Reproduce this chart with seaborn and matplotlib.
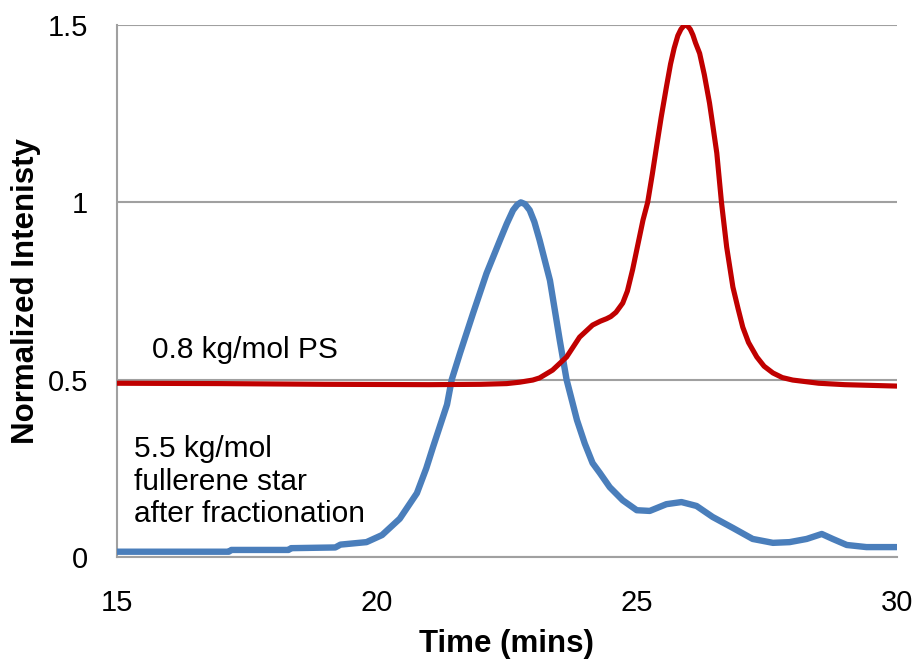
import matplotlib
matplotlib.use("Agg")
import matplotlib.pyplot as plt
import seaborn as sns
import pandas as pd

# ---- data ----
ps_time = [15.0, 17.0, 19.0, 21.0, 22.0, 22.5, 22.75, 23.0, 23.13, 23.38, 23.65,
           23.9, 24.15, 24.3, 24.42, 24.5, 24.6, 24.73, 24.82, 24.92, 25.02, 25.12,
           25.21, 25.3, 25.38, 25.47, 25.57, 25.65, 25.72, 25.79, 25.85, 25.9,
           25.94, 25.98, 26.03, 26.08, 26.13, 26.21, 26.3, 26.4, 26.47, 26.54,
           26.63, 26.73, 26.85, 26.95, 27.04, 27.15, 27.31, 27.45, 27.62, 27.8,
           28.0, 28.5, 29.0, 30.0]
ps_int = [0.490, 0.489, 0.487, 0.486, 0.487, 0.489, 0.493, 0.499, 0.505, 0.527, 0.564,
          0.620, 0.654, 0.665, 0.672, 0.678, 0.690, 0.716, 0.750, 0.810, 0.880, 0.950,
          1.000, 1.080, 1.156, 1.240, 1.325, 1.390, 1.435, 1.470, 1.488, 1.497,
          1.500, 1.497, 1.488, 1.472, 1.450, 1.420, 1.360, 1.280, 1.210, 1.139,
          1.000, 0.874, 0.761, 0.700, 0.648, 0.605, 0.564, 0.538, 0.519, 0.506,
          0.499, 0.490, 0.486, 0.482]

star_time = [15.0, 17.15, 17.2, 18.3, 18.35, 19.2, 19.3, 19.8, 20.1, 20.44, 20.77,
             20.95, 21.08, 21.35, 21.44, 21.6, 21.85, 22.11, 22.37, 22.5, 22.62, 22.7,
             22.77, 22.85, 22.94, 23.03, 23.13, 23.33, 23.52, 23.65, 23.85, 24.0,
             24.15, 24.29, 24.48, 24.73, 25.0, 25.25, 25.57, 25.86, 26.15, 26.46,
             26.85, 27.23, 27.62, 27.94, 28.27, 28.56, 28.77, 29.04, 29.42, 30.0]
star_int = [0.015, 0.015, 0.020, 0.020, 0.025, 0.027, 0.035, 0.042, 0.062, 0.108, 0.180,
            0.250, 0.310, 0.430, 0.500, 0.575, 0.687, 0.800, 0.894, 0.940, 0.978, 0.993,
            1.000, 0.995, 0.978, 0.945, 0.894, 0.780, 0.610, 0.500, 0.386, 0.320,
            0.265, 0.237, 0.197, 0.160, 0.132, 0.130, 0.149, 0.155, 0.144, 0.113,
            0.082, 0.051, 0.040, 0.042, 0.051, 0.065, 0.051, 0.034, 0.028, 0.028]

x_ticks = [15, 20, 25, 30]
y_ticks = [0, 0.5, 1, 1.5]
y_tick_labels = ["0", "0.5", "1", "1.5"]

label_ps = "0.8 kg/mol PS"
label_star = "5.5 kg/mol\nfullerene star\nafter fractionation"

# ---- style ----
sns.set_style("white")
plt.rcParams["font.family"] = ["Liberation Sans", "DejaVu Sans"]
plt.rcParams["text.color"] = "black"
plt.rcParams["axes.labelcolor"] = "black"

GRID = "#A0A0A0"
RED = "#C00000"
BLUE = "#4A7EBB"

fig = plt.figure(figsize=(9.14, 6.64), dpi=100)
ax = fig.add_axes([0.128, 0.1611, 0.853, 0.8012])

df_ps = pd.DataFrame({"time": ps_time, "intensity": ps_int})
df_star = pd.DataFrame({"time": star_time, "intensity": star_int})

sns.lineplot(data=df_star, x="time", y="intensity", color=BLUE, linewidth=4.6,
             estimator=None, ax=ax, zorder=3)
sns.lineplot(data=df_ps, x="time", y="intensity", color=RED, linewidth=3.7,
             estimator=None, ax=ax, zorder=4)

ax.set_xlim(15, 30)
ax.set_ylim(0, 1.5)
ax.set_xticks(x_ticks)
ax.set_xticklabels([str(v) for v in x_ticks])
ax.set_yticks(y_ticks)
ax.set_yticklabels(y_tick_labels)

ax.yaxis.grid(True, color=GRID, linewidth=1.5, zorder=0)
ax.xaxis.grid(False)
ax.set_axisbelow(True)

for s in ["top", "right"]:
    ax.spines[s].set_visible(False)
for s in ["left", "bottom"]:
    ax.spines[s].set_visible(True)
    ax.spines[s].set_color(GRID)
    ax.spines[s].set_linewidth(1.5)

ax.tick_params(axis="y", direction="out", length=7, width=1.5, color=GRID,
               labelsize=21, pad=14, labelcolor="black")
ax.tick_params(axis="x", direction="out", length=6, width=1.5, color=GRID,
               labelsize=21, pad=17, labelcolor="black")

ax.set_xlabel("Time (mins)", fontsize=22.5, fontweight="bold", labelpad=9,
              color="black")
ax.set_ylabel("Normalized Intenisty", fontsize=22.5, fontweight="bold", labelpad=5,
              color="black")

ax.text(15.68, 0.585, label_ps, fontsize=21.5, va="center", ha="left",
        color="black")
ax.text(15.33, 0.212, label_star, fontsize=21.5, va="center", ha="left",
        linespacing=1.2, color="black")

fig.savefig("out.png", dpi=100)
